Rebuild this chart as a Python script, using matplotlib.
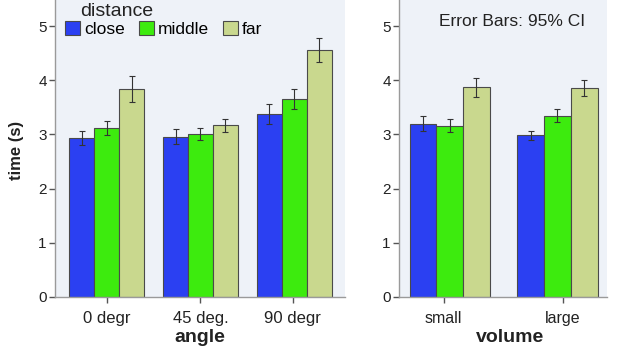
import matplotlib.pyplot as plt
import numpy as np

plt.rcParams['font.family'] = ['Liberation Sans', 'DejaVu Sans']

# Data
series = ['close', 'middle', 'far']
colors = ['#2b40f2', '#3deb0e', '#c9d88e']

angle_cats = ['0 degr', '45 deg.', '90 degr']
angle_vals = [[2.93, 2.96, 3.38],
              [3.11, 3.00, 3.65],
              [3.84, 3.17, 4.56]]
angle_err = [[0.13, 0.14, 0.18],
             [0.13, 0.11, 0.18],
             [0.24, 0.12, 0.22]]

volume_cats = ['small', 'large']
volume_vals = [[3.20, 2.98],
               [3.16, 3.34],
               [3.87, 3.85]]
volume_err = [[0.145, 0.08],
              [0.12, 0.12],
              [0.18, 0.15]]

bg = '#eef2f8'
spine_col = '#9a9a9a'

fig = plt.figure(figsize=(6.19, 3.5), dpi=100)
W, H = 619, 350
ax1 = fig.add_axes([55 / W, 53 / H, 290 / W, 297 / H])
ax2 = fig.add_axes([399 / W, 53 / H, 208 / W, 297 / H])


def draw(ax, cats, vals, err, width, xlim, tickpos):
    x = np.arange(len(cats))
    for i, s in enumerate(series):
        ax.bar(x + (i - 1) * width, vals[i], width, color=colors[i],
               edgecolor='#4a4a4a', linewidth=0.8, label=s, zorder=2)
        ax.errorbar(x + (i - 1) * width, vals[i], yerr=err[i], fmt='none',
                    ecolor='#333333', elinewidth=0.8, capsize=2.5,
                    capthick=0.8, zorder=3)
    ax.set_facecolor(bg)
    ax.set_xlim(*xlim)
    ax.set_ylim(0, 5.48)
    ax.set_yticks([0, 1, 2, 3, 4, 5])
    ax.set_xticks(x + np.array(tickpos))
    ax.set_xticklabels(cats)
    for sp in ['top', 'right']:
        ax.spines[sp].set_visible(False)
    for sp in ['left', 'bottom']:
        ax.spines[sp].set_color(spine_col)
        ax.spines[sp].set_linewidth(1.0)
    ax.tick_params(axis='both', colors='#555555', labelcolor='#222222',
                   labelsize=11, length=4, width=1)
    ax.tick_params(axis='x', pad=6, labelsize=12)
    ax.tick_params(axis='y', pad=2)


draw(ax1, angle_cats, angle_vals, angle_err, 0.266, (-0.55, 2.54),
     [0.005, 0.0, -0.015])
draw(ax2, volume_cats, volume_vals, volume_err, 0.248, (-0.47, 1.46),
     [-0.055, 0.05])
ax2.tick_params(axis='x', labelsize=11.5)

# legend
leg = ax1.legend(loc='upper left', bbox_to_anchor=(0.035, 1 - 21 / 297),
                 ncol=3, frameon=False, fontsize=12.5, handlelength=0.85,
                 handleheight=0.85, handletextpad=0.25, columnspacing=0.8,
                 borderpad=0, borderaxespad=0)
ax1.text(80 / W, 1 - 16 / H, 'distance', transform=fig.transFigure,
         fontsize=14, ha='left', va='baseline', color='#222222')

ax2.text(512 / W, 1 - 22 / H, 'Error Bars: 95% CI', transform=fig.transFigure,
         fontsize=12.5, ha='center', va='center', color='#222222')

# axis labels
fig.text(17 / W, 1 - 150 / H, 'time (s)', rotation=90, ha='center',
         va='center', fontsize=12, fontweight='bold', color='#222222')
fig.text(200 / W, 1 - 338 / H, 'angle', ha='center', va='center',
         fontsize=14, fontweight='bold', color='#222222')
fig.text(510 / W, 1 - 338 / H, 'volume', ha='center', va='center',
         fontsize=14, fontweight='bold', color='#222222')

fig.savefig('out.png', dpi=100)
